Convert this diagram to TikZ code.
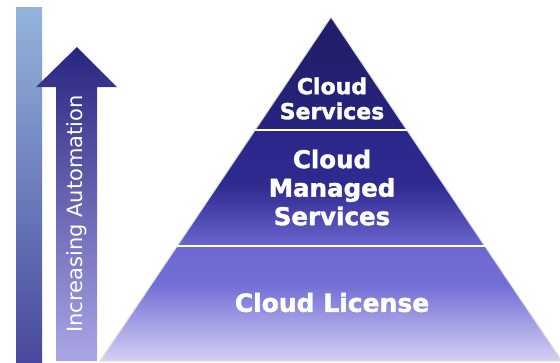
\documentclass[tikz,border=0pt]{standalone}
\usepackage{fontspec}
\setmainfont{DejaVu Sans}
\newfontfamily\heavyfont[FakeBold=1.6]{DejaVu Sans Bold}
\usetikzlibrary{calc}
\definecolor{barTop}{HTML}{94B4DC}
\definecolor{barBot}{HTML}{48489E}
\definecolor{arrTop}{HTML}{29247F}
\definecolor{arrMid}{HTML}{5852C2}
\definecolor{arrBot}{HTML}{AAA6E6}
\definecolor{pA}{HTML}{201C66}
\definecolor{pB}{HTML}{28247E}
\definecolor{pC}{HTML}{2B278A}
\definecolor{pD}{HTML}{2E2A90}
\definecolor{pE}{HTML}{6B65D0}
\definecolor{pF}{HTML}{6D67D2}
\definecolor{pG}{HTML}{746FD6}
\definecolor{pH}{HTML}{D4D2F4}
\begin{document}
\begin{tikzpicture}[x=1pt,y=-1pt,
  lvl/.style={text=white,align=center,inner sep=0pt},
  sep/.style={draw=white,line width=1.8pt},
  arrtext/.style={text=white,font=\fontsize{21}{24}\selectfont,rotate=90,inner sep=0pt,anchor=base}]
\useasboundingbox (0,0) rectangle (560,362);
% left gradient bar
\shade[top color=barTop,bottom color=barBot] (16,7) rectangle (42,362);
% arrow
\shade[top color=arrTop,middle color=arrMid,bottom color=arrBot]
  (56,361) -- (56,87) -- (36,87) -- (77,47) -- (117,87) -- (97,87) -- (97,361) -- cycle;
\node[arrtext] (auto) at (82,214) {Increasing Automation};
% pyramid
\coordinate (apex) at (331,17);
\coordinate (bl) at (100,361);
\coordinate (br) at (562,361);
\begin{scope}
  \clip (apex) -- (br) -- (bl) -- cycle;
  \shade[top color=pA,bottom color=pB] (90,16) rectangle (570,130.5);
  \shade[top color=pC,bottom color=pD] (90,130) rectangle (570,185.5);
  \shade[top color=pD,bottom color=pE] (90,185) rectangle (570,246.5);
  \shade[top color=pF,bottom color=pG] (90,246) rectangle (570,285.5);
  \shade[top color=pG,bottom color=pH] (90,285) rectangle (570,362);
\end{scope}
\draw[gray!25,line width=1pt] (apex) -- (br) -- (bl) -- cycle;
\coordinate (s1l) at ($(apex)!0.3285!(bl)$);
\coordinate (s1r) at ($(apex)!0.3285!(br)$);
\coordinate (s2l) at ($(apex)!0.6657!(bl)$);
\coordinate (s2r) at ($(apex)!0.6657!(br)$);
\draw[sep] (s1l) -- (s1r);
\draw[sep] (s2l) -- (s2r);
\node[lvl,font=\heavyfont\fontsize{22}{25}\selectfont] (cs) at (332,98.5) {Cloud\\Services};
\node[lvl,font=\heavyfont\fontsize{24.5}{28.5}\selectfont] (cms) at (332,187.5) {Cloud\\Managed\\Services};
\node[lvl,font=\heavyfont\fontsize{25}{28}\selectfont] (cl) at (332,302.5) {Cloud License};
\end{tikzpicture}
\end{document}
